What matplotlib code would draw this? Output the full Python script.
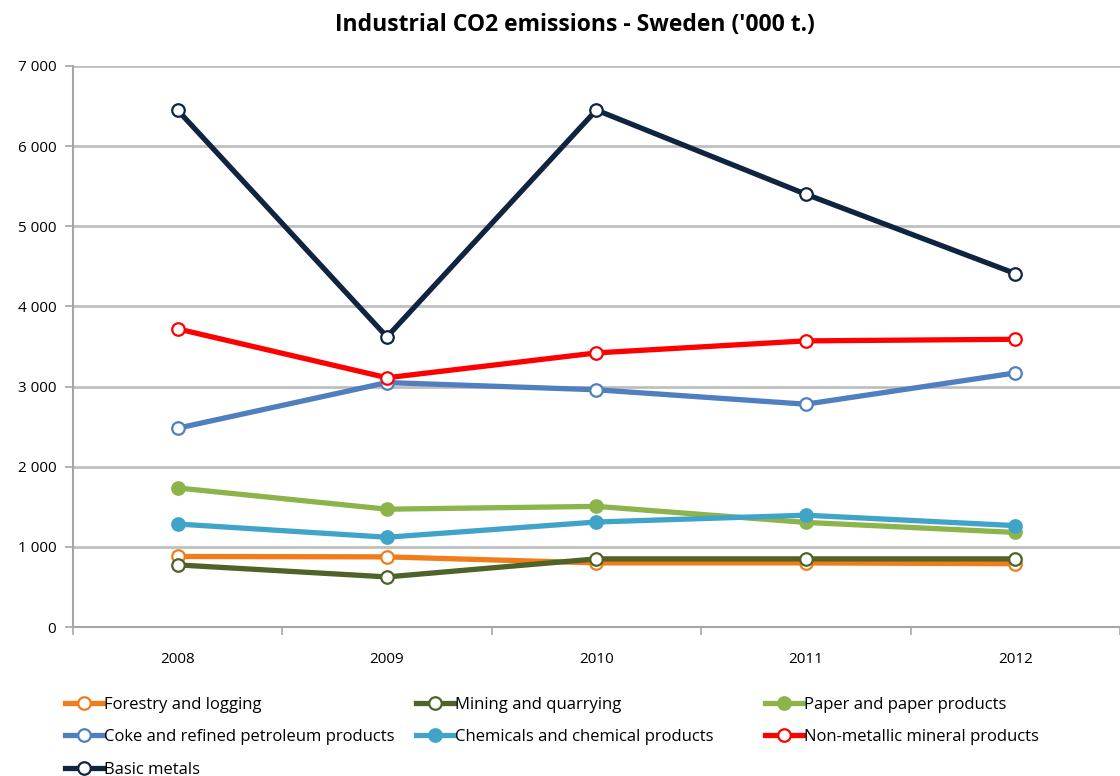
"""Industrial CO2 emissions - Sweden, line chart"""

import matplotlib
matplotlib.use("Agg")
import matplotlib.pyplot as plt
from matplotlib.ticker import FuncFormatter

years = ["2008", "2009", "2010", "2011", "2012"]

forestry = [880, 875, 800, 800, 790]
mining = [775, 625, 850, 850, 850]
paper = [1735, 1470, 1505, 1305, 1180]
coke = [2480, 3050, 2960, 2780, 3170]
chemicals = [1285, 1120, 1310, 1395, 1265]
non_metallic = [3720, 3110, 3420, 3570, 3590]
basic_metals = [6450, 3620, 6450, 5400, 4410]

series = [
    ("Forestry and logging", forestry, "#F07D1A", False),
    ("Mining and quarrying", mining, "#4F6228", False),
    ("Paper and paper products", paper, "#8DB44B", True),
    ("Coke and refined petroleum products", coke, "#4F7FBE", False),
    ("Chemicals and chemical products", chemicals, "#40A4C8", True),
    ("Non-metallic mineral products", non_metallic, "#FF0000", False),
    ("Basic metals", basic_metals, "#0F2440", False),
]

plt.rcParams['font.family'] = ['Open Sans', 'DejaVu Sans']

fig = plt.figure(figsize=(11.2, 7.76), dpi=100)
ax = fig.add_axes([0.065, 0.192, 0.935, 0.723])

x = list(range(len(years)))
handles = {}
for name, vals, color, filled in series:
    h, = ax.plot(x, vals, color=color, lw=3.8, marker='o', markersize=9,
                 markerfacecolor=color if filled else 'white',
                 markeredgecolor=color, markeredgewidth=1.6,
                 solid_joinstyle='round', label=name, zorder=3)
    handles[name] = h

ax.set_xlim(-0.5, 4.48)
ax.set_ylim(0, 7000)
ax.set_yticks(range(0, 7001, 1000))
ax.yaxis.set_major_formatter(FuncFormatter(lambda v, p: f"{int(v):,}".replace(",", " ")))
ax.set_xticks(x)
ax.set_xticklabels(years)
ax.set_xticks([i - 0.5 for i in range(len(years) + 1)], minor=True)
ax.tick_params(axis='x', which='major', length=0, pad=18, labelsize=11)
ax.tick_params(axis='x', which='minor', length=6, color='#A6A6A6', width=1.2)
ax.tick_params(axis='y', length=6, color='#A6A6A6', width=1.2, labelsize=11, pad=6)

ax.grid(axis='y', color='#BFBFBF', lw=2)
ax.set_axisbelow(True)
for s in ['top', 'right']:
    ax.spines[s].set_visible(False)
for s in ['left', 'bottom']:
    ax.spines[s].set_color('#A6A6A6')
    ax.spines[s].set_linewidth(1.5)

fig.text(0.513, 0.968, "Industrial CO2 emissions - Sweden ('000 t.)",
         ha='center', va='center', fontsize=16.5, fontweight='bold')

# legend: three fixed-position columns, like the Excel layout
columns = [
    (0.058, ["Forestry and logging", "Coke and refined petroleum products", "Basic metals"]),
    (0.371, ["Mining and quarrying", "Chemicals and chemical products"]),
    (0.683, ["Paper and paper products", "Non-metallic mineral products"]),
]
for xpos, names in columns:
    fig.legend([handles[n] for n in names], names, loc='upper left',
               bbox_to_anchor=(xpos, 0.102), frameon=False, fontsize=12,
               handlelength=2.3, handletextpad=0.05, labelspacing=0.98,
               borderpad=0, borderaxespad=0)

fig.savefig("out.png", dpi=100)
